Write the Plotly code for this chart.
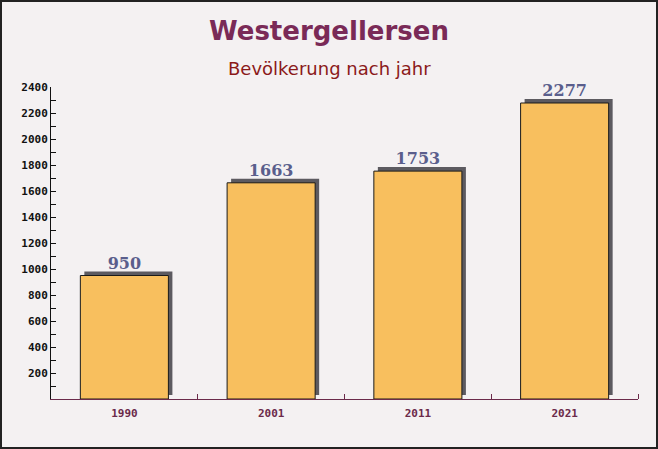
import plotly.graph_objects as go

years = ["1990", "2001", "2011", "2021"]
population = [950, 1663, 1753, 2277]
y_tick_values = [200, 400, 600, 800, 1000, 1200, 1400, 1600, 1800, 2000, 2200, 2400]

W, H = 658, 449
ML, MR, MT, MB = 51, 20, 87, 50
plot_w = W - ML - MR
plot_h = H - MT - MB
y_max = 2400

shadow_dx = 4 / (plot_w / len(years))   # 4px in category units
shadow_dy = 4 * y_max / plot_h          # 4px in data units
bar_w = 0.6

fig = go.Figure()
fig.add_trace(go.Bar(
    x=list(range(len(years))), y=population,
    base=[shadow_dy] * len(years),
    width=bar_w, offset=-bar_w / 2 + shadow_dx,
    marker=dict(color="#5c5a60", line=dict(width=0)),
    hoverinfo="skip", showlegend=False,
))
fig.add_trace(go.Bar(
    x=list(range(len(years))), y=population,
    width=bar_w, offset=-bar_w / 2,
    marker=dict(color="#f8bf5e", line=dict(color="#1a1a1a", width=1)),
    text=[str(v) for v in population], textposition="outside",
    textfont=dict(family="DejaVu Serif", size=16, color="#5a5e8c", weight="bold"),
    cliponaxis=False, showlegend=False,
))

fig.update_layout(
    width=W, height=H, barmode="overlay",
    margin=dict(l=ML, r=MR, t=MT, b=MB),
    paper_bgcolor="#f4f1f2", plot_bgcolor="rgba(0,0,0,0)",
    xaxis=dict(
        range=[-0.5, len(years) - 0.5],
        tickmode="array", tickvals=list(range(len(years))), ticktext=years,
        showgrid=False, zeroline=False,
        showline=True, linecolor="#6b2a4a", linewidth=1,
        ticks="", ticklabelstandoff=4,
        tickfont=dict(family="DejaVu Sans Mono", size=11, color="#6b2a4a", weight="bold"),
        minor=dict(tickmode="array", tickvals=[0.5, 1.5, 2.5, 3.5], ticks="inside",
                   ticklen=5, tickcolor="#6b2a4a"),
    ),
    yaxis=dict(
        range=[0, y_max], tickmode="array", tickvals=y_tick_values,
        showgrid=False, zeroline=False,
        showline=True, linecolor="#111111", linewidth=1,
        ticks="inside", ticklen=5, tickcolor="#111111",
        tickfont=dict(family="DejaVu Sans Mono", size=11, color="#111111", weight="bold"),
        minor=dict(dtick=100, ticks="inside", ticklen=5, tickcolor="#111111"),
    ),
    annotations=[
        dict(text="<b>Westergellersen</b>", xref="paper", yref="paper",
             x=(W / 2 - ML) / plot_w, y=1 + (MT - 31) / plot_h,
             xanchor="center", yanchor="middle", showarrow=False,
             font=dict(family="DejaVu Sans", size=26, color="#7a2a57")),
        dict(text="Bevölkerung nach jahr", xref="paper", yref="paper",
             x=(W / 2 - ML) / plot_w, y=1 + (MT - 68) / plot_h,
             xanchor="center", yanchor="middle", showarrow=False,
             font=dict(family="DejaVu Sans", size=18, color="#8b1a1a")),
    ],
    shapes=[
        dict(type="rect", xref="paper", yref="paper",
             x0=-(ML - 1) / plot_w, x1=1 + (MR - 1) / plot_w,
             y0=-(MB - 1) / plot_h, y1=1 + (MT - 1) / plot_h,
             line=dict(color="#222222", width=2), layer="above"),
    ],
)

fig.write_html(
    "out.html",
    config={"displayModeBar": False},
    post_script="document.body.style.margin='0';document.body.style.padding='0';",
)
